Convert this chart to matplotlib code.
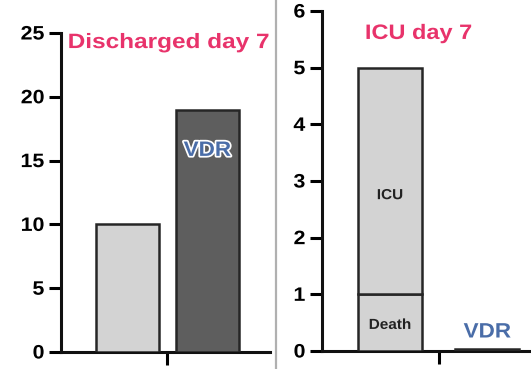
import matplotlib.pyplot as plt
import matplotlib.patheffects as pe
from matplotlib.lines import Line2D
from matplotlib.transforms import Affine2D

plt.rcParams['font.family'] = ['Liberation Sans', 'DejaVu Sans']

# left panel: discharged by day 7
dis_groups = ['Control', 'VDR']
dis_values = [10, 19]
dis_colors = ['#d3d3d3', '#5e5e5e']

# right panel: ICU by day 7 (stacked)
icu_groups = ['Control', 'VDR']
icu_death = [1, 0]
icu_icu = [4, 0.04]

pink = '#e8336b'
blue = '#4a6da8'
edge = '#262626'
SX = 1.1  # the reference text is a bit wider than plain Arial


class Stretch(pe.AbstractPathEffect):
    # widen glyphs around an anchor, then hand over to the inner effects
    def __init__(self, sx, anchor='center', inner=None):
        super().__init__()
        self.sx = sx
        self.anchor = anchor
        self.inner = inner or [pe.Normal()]

    def draw_path(self, renderer, gc, tpath, affine, rgbFace=None):
        ext = tpath.get_extents()
        a = {'left': ext.x0, 'center': (ext.x0 + ext.x1) / 2,
             'right': ext.x1}[self.anchor]
        t = Affine2D().translate(-a, 0).scale(self.sx, 1).translate(a, 0) + affine
        for eff in self.inner:
            eff.draw_path(renderer, gc, tpath, t, rgbFace)


fig = plt.figure(figsize=(5.31, 3.69), dpi=100)


def style(ax, ymax, step):
    for s in ['top', 'right']:
        ax.spines[s].set_visible(False)
    for s in ['left', 'bottom']:
        ax.spines[s].set_linewidth(2.2)
        ax.spines[s].set_color('#111111')
    ax.set_ylim(0, ymax)
    ax.set_yticks(range(0, ymax + 1, step))
    ax.tick_params(axis='y', length=9, width=2.2, pad=3, labelsize=14)
    ax.tick_params(axis='x', length=9.5, width=2.2, labelbottom=False)
    for lab in ax.get_yticklabels():
        lab.set_fontweight('bold')
        lab.set_path_effects([Stretch(SX, 'right')])


# ---- left
ax1 = fig.add_axes([0.1149, 0.0461, 0.394, 0.8645])
ax1.bar(range(len(dis_groups)), dis_values, width=0.79, color=dis_colors,
        edgecolor=edge, linewidth=1.8, zorder=3)
ax1.set_xlim(-0.836, 1.79)
ax1.set_xticks([0.5])
style(ax1, 25, 5)
ax1.text(0.033, 0.97, 'Discharged day 7', transform=ax1.transAxes, color=pink,
         fontsize=15, fontweight='bold', va='center', ha='left',
         path_effects=[Stretch(1.17, 'left')])
ax1.text(1, 15.8, 'VDR', color=blue, fontsize=15, fontweight='bold',
         ha='center', va='center', zorder=4,
         path_effects=[Stretch(1.08, 'center',
                               [pe.Stroke(linewidth=2.5, foreground='white'),
                                pe.Normal()])])

# ---- right
ax2 = fig.add_axes([0.6064, 0.0488, 0.3936, 0.9214])
x2 = range(len(icu_groups))
ax2.bar(x2, icu_death, width=0.66, color='#d3d3d3', edgecolor=edge,
        linewidth=1.8, zorder=3)
ax2.bar(x2, icu_icu, bottom=icu_death, width=0.66, color='#d3d3d3',
        edgecolor=edge, linewidth=1.8, zorder=3)
ax2.set_xlim(-0.70, 1.45)
ax2.set_xticks([0.5])
style(ax2, 6, 1)
ax2.text(0.462, 0.934, 'ICU day 7', transform=ax2.transAxes, color=pink,
         fontsize=15, fontweight='bold', va='center', ha='center',
         path_effects=[Stretch(1.13, 'center')])
ax2.text(0, 2.75, 'ICU', fontsize=10.5, fontweight='bold',
         color='#222222', ha='center', va='center', zorder=4,
         path_effects=[Stretch(1.05, 'center')])
ax2.text(0, 0.46, 'Death', fontsize=10.5, fontweight='bold',
         color='#222222', ha='center', va='center', zorder=4,
         path_effects=[Stretch(1.05, 'center')])
ax2.text(1, 0.335, 'VDR', color=blue, fontsize=15, fontweight='bold',
         ha='center', va='center', path_effects=[Stretch(1.08, 'center')])

# separator between the two panels
fig.add_artist(Line2D([276 / 531, 276 / 531], [0, 1], color='#b0b0b0',
                      linewidth=1.6, transform=fig.transFigure))

fig.savefig('out.png', dpi=100)
